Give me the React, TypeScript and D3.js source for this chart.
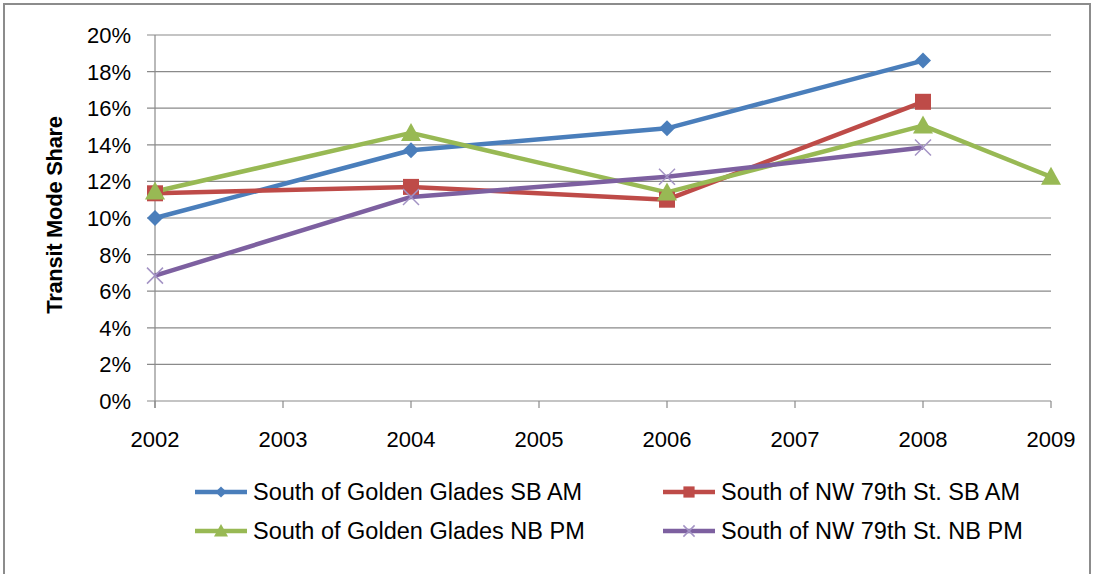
import React from "react";
import * as d3 from "d3";

const years = [2002, 2003, 2004, 2005, 2006, 2007, 2008, 2009];
const yTicks = [0, 2, 4, 6, 8, 10, 12, 14, 16, 18, 20];

const goldenSB = [
  { year: 2002, value: 10.0 },
  { year: 2004, value: 13.7 },
  { year: 2006, value: 14.9 },
  { year: 2008, value: 18.6 },
];
const nw79SB = [
  { year: 2002, value: 11.35 },
  { year: 2004, value: 11.7 },
  { year: 2006, value: 11.0 },
  { year: 2008, value: 16.35 },
];
const goldenNB = [
  { year: 2002, value: 11.45 },
  { year: 2004, value: 14.65 },
  { year: 2006, value: 11.4 },
  { year: 2008, value: 15.05 },
  { year: 2009, value: 12.25 },
];
const nw79NB = [
  { year: 2002, value: 6.85 },
  { year: 2004, value: 11.15 },
  { year: 2006, value: 12.25 },
  { year: 2008, value: 13.85 },
];

type Pt = { year: number; value: number };
type Series = { name: string; color: string; marker: string; data: Pt[] };

const series: Series[] = [
  { name: "South of Golden Glades SB AM", color: "#4A7EBB", marker: "diamond", data: goldenSB },
  { name: "South of NW 79th St. SB AM", color: "#BE4B48", marker: "square", data: nw79SB },
  { name: "South of Golden Glades NB PM", color: "#98B954", marker: "triangle", data: goldenNB },
  { name: "South of NW 79th St. NB PM", color: "#7D60A0", marker: "x", data: nw79NB },
];

const W = 1095;
const H = 574;
const left = 155;
const right = 1051;
const top = 35;
const bottom = 401;
const FONT = "'Liberation Sans', Arial, sans-serif";

const x = d3.scaleLinear().domain([2002, 2009]).range([left, right]);
const y = d3.scaleLinear().domain([0, 20]).range([bottom, top]);

function Marker({ kind, cx, cy, color, scale = 1 }: { kind: string; cx: number; cy: number; color: string; scale?: number }) {
  if (kind === "diamond") {
    const r = 8 * scale;
    return <path d={`M${cx},${cy - r}L${cx + r},${cy}L${cx},${cy + r}L${cx - r},${cy}Z`} fill={color} />;
  }
  if (kind === "square") {
    const s = 8 * scale;
    return <rect x={cx - s} y={cy - s} width={2 * s} height={2 * s} fill={color} />;
  }
  if (kind === "triangle") {
    const s = 10 * scale;
    return <path d={`M${cx},${cy - s}L${cx + s},${cy + s * 0.8}L${cx - s},${cy + s * 0.8}Z`} fill={color} />;
  }
  const s = 8 * scale;
  return (
    <path
      d={`M${cx - s},${cy - s}L${cx + s},${cy + s}M${cx - s},${cy + s}L${cx + s},${cy - s}`}
      stroke="#A393C4"
      strokeWidth={1.5}
      fill="none"
    />
  );
}

export default function App() {
  const line = d3
    .line<Pt>()
    .x((d) => x(d.year))
    .y((d) => y(d.value));

  const legendPos = [
    { lx: 195, ly: 492 },
    { lx: 663, ly: 492 },
    { lx: 195, ly: 531 },
    { lx: 663, ly: 531 },
  ];

  return (
    <svg width={W} height={H} style={{ position: "absolute", left: 0, top: 0, background: "#fff" }} fontFamily={FONT}>
      <rect x={4} y={4} width={1086} height={590} fill="#fff" stroke="#8C8C8C" strokeWidth={2} />

      {/* horizontal gridlines with left tick marks */}
      {yTicks.map((t) => (
        <g key={t}>
          <line x1={left - 8} x2={right} y1={y(t)} y2={y(t)} stroke="#8A8A8A" strokeWidth={1.2} />
          <text x={131} y={y(t)} dy="0.36em" textAnchor="end" fontSize={22} fill="#000">
            {t}%
          </text>
        </g>
      ))}

      {/* vertical axis */}
      <line x1={left} x2={left} y1={top} y2={bottom + 7} stroke="#8A8A8A" strokeWidth={1.2} />

      {/* x ticks and labels */}
      {years.map((yr) => (
        <g key={yr}>
          <line x1={x(yr)} x2={x(yr)} y1={bottom} y2={bottom + 7} stroke="#8A8A8A" strokeWidth={1.2} />
          <text x={x(yr)} y={447} textAnchor="middle" fontSize={22} fill="#000">
            {yr}
          </text>
        </g>
      ))}

      <text
        transform={`translate(62,215) rotate(-90)`}
        textAnchor="middle"
        fontSize={22}
        fontWeight="bold"
        fill="#000"
        letterSpacing={-0.3}
      >
        Transit Mode Share
      </text>

      {/* series lines */}
      {series.map((s) => (
        <path key={s.name} d={line(s.data) || ""} fill="none" stroke={s.color} strokeWidth={4.5} strokeLinejoin="round" />
      ))}
      {series.map((s) =>
        s.data.map((d) => (
          <Marker key={s.name + d.year} kind={s.marker} cx={x(d.year)} cy={y(d.value)} color={s.color} />
        ))
      )}

      {/* legend */}
      {series.map((s, i) => {
        const { lx, ly } = legendPos[i];
        return (
          <g key={"lg" + s.name}>
            <line x1={lx} x2={lx + 52} y1={ly} y2={ly} stroke={s.color} strokeWidth={4.5} />
            <Marker kind={s.marker} cx={lx + 26} cy={ly} color={s.color} scale={0.7} />
            <text x={lx + 58} y={ly} dy="0.36em" fontSize={23.5} fill="#000">
              {s.name}
            </text>
          </g>
        );
      })}
    </svg>
  );
}
